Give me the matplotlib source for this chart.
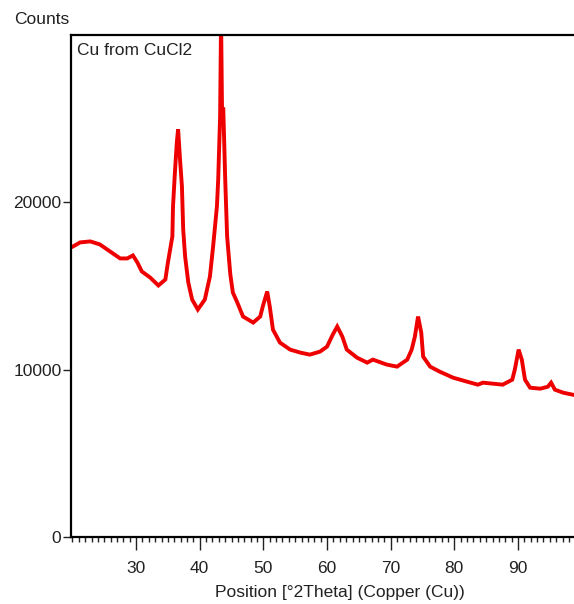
import matplotlib.pyplot as plt
from matplotlib.ticker import MultipleLocator

plt.rcParams['font.family'] = ['Liberation Sans', 'DejaVu Sans']

# XRD pattern (2theta in degrees, intensity in counts)
two_theta = [20.1, 21.2, 22.8, 24.3, 25.9, 27.5, 28.6, 29.5, 30.2, 30.9,
             32.2, 33.5, 34.6, 35.0, 35.7, 35.8, 36.1, 36.4, 36.6, 36.9,
             37.2, 37.4, 37.7, 38.2, 38.8, 39.7, 40.8, 41.6, 42.1, 42.7,
             42.9, 43.2, 43.35, 43.5, 43.7, 44.0, 44.3, 44.8, 45.2, 45.9,
             46.8, 48.4, 49.5, 49.9, 50.6, 51.0, 51.5, 52.6, 54.2, 55.8,
             57.3, 58.9, 60.0, 60.9, 61.6, 62.4, 63.1, 64.7, 66.3, 67.2,
             69.4, 71.0, 72.6, 73.3, 73.8, 74.3, 74.8, 75.1, 76.2, 77.7,
             79.8, 82.0, 83.7, 84.5, 87.6, 89.1, 89.5, 90.1, 90.6, 91.1,
             91.9, 93.5, 94.7, 95.2, 95.8, 97.1, 98.6]
counts = [17365, 17605, 17665, 17485, 17066, 16647, 16647, 16826, 16407, 15868,
          15509, 15030, 15389, 16407, 17964, 19760, 21796, 23593, 24371, 22575,
          20958, 18383, 16766, 15210, 14192, 13593, 14192, 15569, 17365, 19760,
          21377, 25150, 31000, 25569, 25569, 21377, 17964, 15700, 14611, 14012,
          13174, 12814, 13174, 13772, 14671, 13772, 12395, 11617, 11198, 11018,
          10898, 11078, 11377, 12096, 12575, 11976, 11198, 10719, 10419, 10599,
          10300, 10180, 10599, 11198, 11976, 13174, 12216, 10778, 10180, 9880,
          9521, 9281, 9102, 9222, 9102, 9401, 10000, 11198, 10599, 9401,
          8922, 8862, 8982, 9222, 8802, 8623, 8503]

sample_name = 'Cu from CuCl2'
x_label = 'Position [°2Theta] (Copper (Cu))'
y_ticks = [0, 10000, 20000]
x_ticks = [30, 40, 50, 60, 70, 80, 90]

text_color = '#222222'

fig = plt.figure(figsize=(5.74, 6.04), dpi=100)
ax = fig.add_axes([0.124, 0.111, 0.876, 0.831])

ax.plot(two_theta, counts, color='#ee0000', lw=2.8, solid_joinstyle='miter')

ax.set_xlim(19.8, 98.8)
ax.set_ylim(0, 30000)

ax.set_xticks(x_ticks)
ax.xaxis.set_minor_locator(MultipleLocator(1))
ax.set_yticks(y_ticks)

ax.tick_params(axis='x', which='major', direction='out', length=9, width=1,
               labelsize=12.5, pad=8, colors=text_color)
ax.tick_params(axis='x', which='minor', direction='out', length=3.5, width=1,
               colors=text_color)
ax.tick_params(axis='y', which='major', direction='out', length=6, width=1,
               labelsize=12.5, pad=1, colors=text_color)

for side in ['left', 'top', 'bottom']:
    ax.spines[side].set_linewidth(1.6)
    ax.spines[side].set_color('black')
ax.spines['right'].set_visible(False)

ax.set_xlabel(x_label, fontsize=12.5, color=text_color)
ax.xaxis.set_label_coords(0.535, -0.095)

ax.text(0.012, 0.985, sample_name, transform=ax.transAxes, ha='left', va='top',
        fontsize=12.5, color=text_color)
fig.text(0.024, 0.967, 'Counts', ha='left', va='center', fontsize=12.5,
         color=text_color)

fig.savefig('out.png', dpi=100)
